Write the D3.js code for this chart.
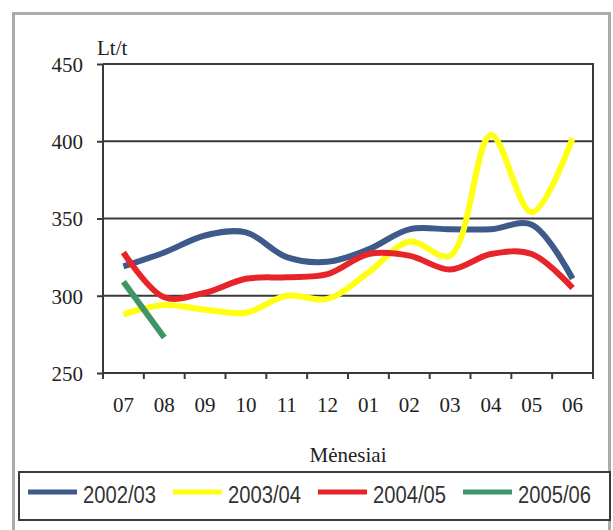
<!DOCTYPE html>
<html lang="en">

<head>
    <meta charset="UTF-8">
    <title>Lt/t pagal mėnesius</title>
    <style>
        body {
            margin: 0;
            padding: 0;
            background: #fff;
        }

        svg {
            display: block;
        }

        .axis text,
        .label {
            font-family: "Liberation Serif", "Times New Roman", serif;
            font-size: 21px;
            fill: #222;
        }

        .legend text {
            font-family: "Liberation Sans", Arial, sans-serif;
            font-size: 23px;
            fill: #333;
        }
    </style>
</head>

<body>

    <script src="https://d3js.org/d3.v7.min.js"></script>
    <script>
        const width = 613
        const height = 530

        const months = ['07', '08', '09', '10', '11', '12', '01', '02', '03', '04', '05', '06']
        const yTicks = [250, 300, 350, 400, 450]

        const s2002 = [319, 328, 339, 341, 325, 322, 330, 343, 343, 343, 346, 311]
        const s2003 = [288, 294, 291, 289, 300, 298, 315, 335, 326, 404, 354, 402]
        const s2004 = [328, 299, 302, 311, 312, 314, 327, 326, 317, 327, 327, 305]
        const s2005 = [309, 273]

        const series = [
            { name: '2002/03', color: '#3d5a8a', values: s2002 },
            { name: '2003/04', color: '#ffff14', values: s2003 },
            { name: '2004/05', color: '#e8242b', values: s2004 },
            { name: '2005/06', color: '#3f9468', values: s2005 }
        ]

        const setAttr = (sel, attrs) => {
            Object.keys(attrs).forEach(k => sel.attr(k, attrs[k]))
        }

        const plot = { left: 103, right: 593, top: 64, bottom: 373 }

        const x = d3.scaleBand()
            .domain(months)
            .range([plot.left, plot.right])

        const y = d3.scaleLinear()
            .domain([250, 450])
            .range([plot.bottom, plot.top])

        const svg = d3.select('body')
            .append('svg')
            .call(setAttr, { width, height })

        // outer frame
        svg.append('rect')
            .call(setAttr, {
                x: 13.5, y: 13.5, width: 596, height: 530,
                fill: 'none', stroke: '#ababab', 'stroke-width': 3
            })

        // gridlines
        svg.append('g')
            .selectAll('line')
            .data(yTicks.slice(1))
            .join('line')
            .call(setAttr, {
                x1: plot.left, x2: plot.right,
                y1: d => y(d), y2: d => y(d),
                stroke: '#3a3a3a', 'stroke-width': 2
            })

        // right border
        svg.append('line')
            .call(setAttr, {
                x1: plot.right, x2: plot.right, y1: plot.top - 1, y2: plot.bottom + 1,
                stroke: '#3a3a3a', 'stroke-width': 2
            })

        const yAxis = svg.append('g')
            .attr('class', 'axis')
            .attr('transform', `translate(${plot.left},0)`)
            .call(d3.axisLeft(y).tickValues(yTicks).tickSize(6).tickPadding(14))
            .attr('font-family', 'Liberation Serif')
            .attr('font-size', 21)
        yAxis.selectAll('path, line').attr('stroke', '#3a3a3a').attr('stroke-width', 2)
        yAxis.select('.domain').attr('d', `M0,${plot.top}V${plot.bottom}`)
        yAxis.selectAll('text').attr('dy', '0.35em')

        const xAxis = svg.append('g')
            .attr('class', 'axis')
            .attr('transform', `translate(0,${plot.bottom})`)
            .call(d3.axisBottom(x).tickSize(0).tickPadding(24))
            .attr('font-family', 'Liberation Serif')
            .attr('font-size', 21)
        xAxis.select('.domain').attr('d', `M${plot.left},0H${plot.right}`)
            .attr('stroke', '#3a3a3a').attr('stroke-width', 2)
        xAxis.selectAll('text').attr('dy', '0.71em')

        // ticks between categories
        xAxis.append('g')
            .selectAll('line')
            .data(d3.range(months.length + 1))
            .join('line')
            .call(setAttr, {
                x1: i => plot.left + i * x.bandwidth(),
                x2: i => plot.left + i * x.bandwidth(),
                y1: 0, y2: 6,
                stroke: '#3a3a3a', 'stroke-width': 2
            })

        svg.append('text')
            .attr('class', 'label')
            .call(setAttr, { x: 97, y: 55 })
            .text('Lt/t')

        svg.append('text')
            .attr('class', 'label')
            .call(setAttr, { x: (plot.left + plot.right) / 2, y: 462, 'text-anchor': 'middle' })
            .text('Mėnesiai')

        const line = d3.line()
            .x((d, i) => x(months[i]) + x.bandwidth() / 2)
            .y(d => y(d))
            .curve(d3.curveCatmullRom.alpha(0.5))

        svg.append('g')
            .selectAll('path')
            .data(series)
            .join('path')
            .call(setAttr, {
                d: d => line(d.values),
                fill: 'none',
                stroke: d => d.color,
                'stroke-width': 6,
                'stroke-linejoin': 'round'
            })

        // legend
        const legend = svg.append('g').attr('class', 'legend')
        legend.append('rect')
            .call(setAttr, {
                x: 19, y: 472, width: 591, height: 48,
                fill: '#fff', stroke: '#3a3a3a', 'stroke-width': 2
            })

        const legendX = [28, 173, 318, 463]
        const item = legend.selectAll('g.item')
            .data(series)
            .join('g')
            .attr('class', 'item')
            .attr('transform', (d, i) => `translate(${legendX[i]},0)`)
        item.append('line')
            .call(setAttr, {
                x1: 0, x2: 49, y1: 492, y2: 492,
                stroke: d => d.color, 'stroke-width': 5
            })
        item.append('text')
            .call(setAttr, { x: 55, y: 503, textLength: 73, lengthAdjust: 'spacingAndGlyphs' })
            .text(d => d.name)
    </script>

</body>

</html>
